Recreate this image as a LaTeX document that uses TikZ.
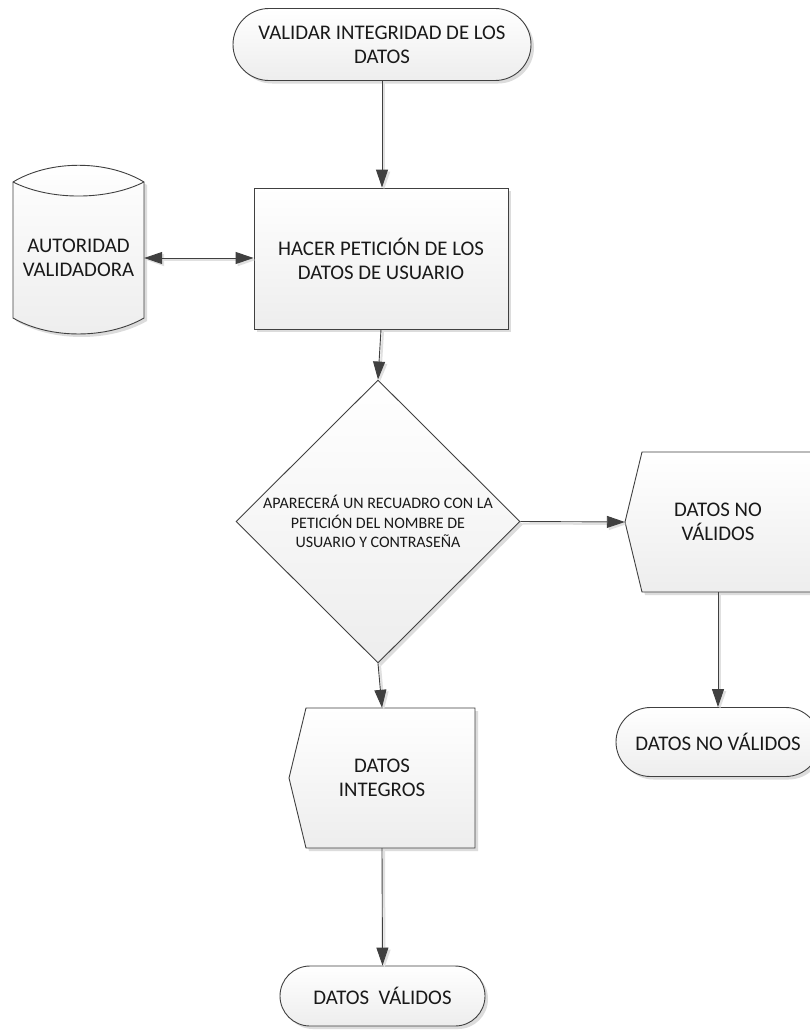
\documentclass[tikz,border=0pt]{standalone}
\usepackage{fontspec}
\setmainfont{Carlito}
\usetikzlibrary{shapes.geometric,shapes.misc,arrows.meta,shadows}

\begin{document}
\begin{tikzpicture}[x=1pt,y=-1pt,
  every node/.style={font=\fontsize{20.8}{24}\selectfont, align=center, text=black!90},
  shapefill/.style={top color=white, bottom color=black!7, draw=black!75, line width=0.9pt},
  shadowed/.style={drop shadow={shadow xshift=3pt, shadow yshift=-3pt, fill=black!30, opacity=0.45}},
  terminal/.style={rounded rectangle, shapefill, shadowed, inner sep=0pt},
  process/.style={rectangle, shapefill, shadowed, inner sep=0pt},
  decision/.style={diamond, shapefill, shadowed, inner sep=0pt, font=\fontsize{16}{19.5}\selectfont},
  label/.style={inner sep=0pt},
  arrowshade/.style={preaction={draw=black!12, line width=2pt, transform canvas={shift={(2pt,-2pt)}}}},
  flow/.style={draw=black!75, line width=0.9pt, -{Triangle[length=18pt,width=12pt]}, arrowshade},
  biflow/.style={draw=black!75, line width=0.9pt, {Triangle[length=18pt,width=12pt]}-{Triangle[length=18pt,width=12pt]}, arrowshade}
]
\useasboundingbox[fill=white] (0,0) rectangle (810,1033);

% start terminal
\node[terminal, minimum width=298, minimum height=72] (start) at (382,44.5)
  {VALIDAR INTEGRIDAD DE LOS\\DATOS};

% request process
\node[process, minimum width=254, minimum height=141] (req) at (381,258.5)
  {HACER PETICIÓN DE LOS\\DATOS DE USUARIO};

% stored data cylinder
\path[shapefill, shadowed]
  (13,182) .. controls (50,159.7) and (107,159.7) .. (144,182)
  -- (144,318) .. controls (107,339.3) and (50,339.3) .. (13,318) -- cycle;
\draw[draw=black!75, line width=0.9pt]
  (13,182) .. controls (50,200.7) and (107,200.7) .. (144,182);
\node[label, minimum width=131, minimum height=150] (auth) at (78.5,258)
  {AUTORIDAD\\VALIDADORA};

% decision
\node[decision, minimum width=284, minimum height=283] (ask) at (378,521.5)
  {APARECERÁ UN RECUADRO CON LA\\PETICIÓN DEL NOMBRE DE\\USUARIO Y CONTRASEÑA};

% display: invalid data
\path[shapefill, shadowed]
  (625,522) -- (642,452) -- (811,452) -- (811,592) -- (642,592) -- cycle;
\node[label, minimum width=186, minimum height=140] (bad) at (718,522)
  {DATOS NO\\VÁLIDOS};

% display: intact data
\path[shapefill, shadowed]
  (289,778) -- (306,708) -- (475,708) -- (475,848) -- (306,848) -- cycle;
\node[label, minimum width=186, minimum height=140] (good) at (382,778)
  {DATOS\\INTEGROS};

% end terminals
\node[terminal, minimum width=204, minimum height=69] (endbad) at (718,742)
  {DATOS NO VÁLIDOS};
\node[terminal, minimum width=205, minimum height=60] (endgood) at (382.5,996)
  {DATOS\ \ VÁLIDOS};

% connectors
\draw[flow] (start.south) -- (start.south |- req.north);
\draw[biflow] (auth.east) -- (auth.east -| req.west);
\draw[flow] (req.south) -- (ask.north);
\draw[flow] (ask.east) -- (bad.west);
\draw[flow] (ask.south) -- (good.north);
\draw[flow] (bad.south) -- (endbad.north);
\draw[flow] (good.south) -- (endgood.north);
\end{tikzpicture}
\end{document}
